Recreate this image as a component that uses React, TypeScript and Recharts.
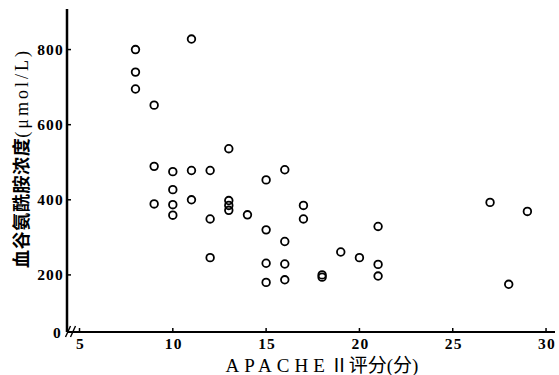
import React from "react";
import { ScatterChart, Scatter, XAxis, YAxis } from "recharts";

// APACHE II score of each patient and blood glutamine (μmol/L)
const scores = [
  8, 8, 8, 9, 11, 13, 9, 10, 11, 12, 15, 16, 10, 9, 10, 10, 11, 12, 12, 13, 13,
  13, 14, 15, 15, 15, 17, 17, 16, 16, 16, 21, 19, 20, 21, 21, 18, 18, 27, 29, 28,
];
const glutamine = [
  800, 740, 695, 652, 828, 536, 489, 475, 478, 478, 453, 480, 427, 389, 387,
  359, 400, 349, 246, 398, 385, 372, 360, 320, 231, 180, 385, 349, 289, 229,
  187, 329, 261, 246, 228, 197, 200, 194, 393, 369, 175,
];

const xTicks = [5, 10, 15, 20, 25, 30];
const yTicks = [200, 400, 600, 800];
// the y axis is broken: its bottom end is labelled "0"
const yAxisMin = 48;
const yAxisMax = 908;

const points = scores.map((score, i) => ({ score, value: glutamine[i] }));

const serif = "'Liberation Serif', 'DejaVu Serif', serif";
const cjk = "'Liberation Serif', 'Noto Sans CJK SC', serif";

const Ring = (props: any) => (
  <circle
    cx={props.cx}
    cy={props.cy}
    r={3.8}
    fill="none"
    stroke="#000"
    strokeWidth={1.8}
  />
);

const XTick = (props: any) => {
  const { x, y, payload } = props;
  const axisY = y - 6;
  return (
    <g>
      <line x1={x} y1={axisY} x2={x} y2={axisY - 4} stroke="#000" strokeWidth={1.5} />
      {payload.value === xTicks[0] && (
        <g stroke="#000" strokeWidth={1.4}>
          <line x1={x - 14} y1={axisY + 5} x2={x - 9} y2={axisY - 6} />
          <line x1={x - 9} y1={axisY + 5} x2={x - 4} y2={axisY - 6} />
        </g>
      )}
      <text
        x={x + 1}
        y={y + 11}
        textAnchor="middle"
        fontFamily={serif}
        fontSize={15.5}
        fontWeight="bold"
        letterSpacing={1.2}
        fill="#000"
      >
        {payload.value}
      </text>
    </g>
  );
};

const YTick = (props: any) => {
  const { x, y, payload } = props;
  const isBreak = payload.value === yAxisMin;
  return (
    <g>
      {!isBreak && (
        <line x1={x + 4} y1={y} x2={x + 8} y2={y} stroke="#000" strokeWidth={1.5} />
      )}
      <text
        x={isBreak ? x - 1 : x + 1}
        y={y + 5.5}
        textAnchor="end"
        fontFamily={serif}
        fontSize={15.5}
        fontWeight="bold"
        letterSpacing={1.2}
        fill="#000"
      >
        {isBreak ? "0" : payload.value}
      </text>
    </g>
  );
};

const XLabel = (props: any) => {
  const vb = props.viewBox;
  return (
    <text
      x={vb.x + vb.width / 2 + 11}
      y={vb.y + 40}
      textAnchor="middle"
      fontFamily={cjk}
      fontSize={19}
      fill="#000"
    >
      <tspan letterSpacing={5}>APACHE</tspan>
      <tspan>Ⅱ评分(分)</tspan>
    </text>
  );
};

const YLabel = () => (
  <text
    x={22}
    y={158}
    transform="rotate(-90 22 158)"
    textAnchor="middle"
    dominantBaseline="central"
    fontFamily={cjk}
    fontSize={18}
    fontWeight="bold"
    fill="#000"
  >
    <tspan letterSpacing={0.6}>血谷氨酰胺浓度</tspan>
    <tspan letterSpacing={3} fontWeight="normal">(μmol/L)</tspan>
  </text>
);

export default function App() {
  return (
    <div style={{ position: "absolute", left: 0, top: 0, background: "#fff" }}>
      <ScatterChart
        width={559}
        height={375}
        margin={{ top: 9, right: 4, bottom: 0, left: 17 }}
      >
        <XAxis
          type="number"
          dataKey="score"
          domain={[4.33, 30.48]}
          allowDataOverflow
          ticks={xTicks}
          height={43}
          tickSize={0}
          tickMargin={6}
          tickLine={false}
          tick={XTick}
          axisLine={{ stroke: "#000", strokeWidth: 2 }}
          label={XLabel}
        />
        <YAxis
          type="number"
          dataKey="value"
          domain={[yAxisMin, yAxisMax]}
          allowDataOverflow
          ticks={[yAxisMin, ...yTicks]}
          width={50}
          tickSize={0}
          tickMargin={4}
          tickLine={false}
          tick={YTick}
          axisLine={{ stroke: "#000", strokeWidth: 2.5 }}
          label={YLabel}
        />
        <Scatter data={points} shape={Ring} isAnimationActive={false} />
      </ScatterChart>
    </div>
  );
}
